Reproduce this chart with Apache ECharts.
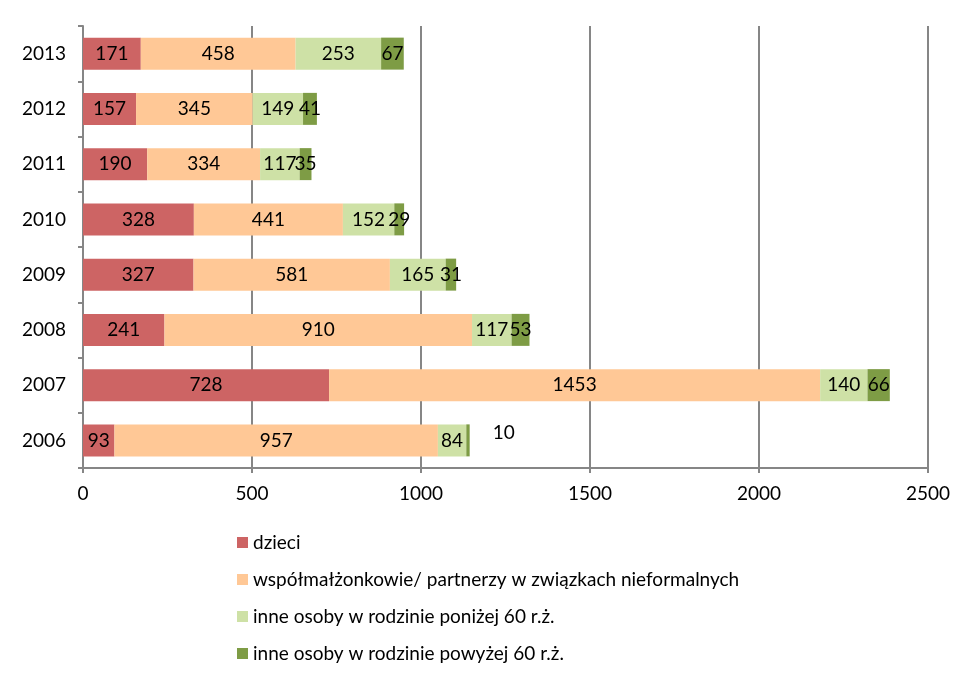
<!DOCTYPE html>
<html><head><meta charset="utf-8">
<script src="https://cdn.jsdelivr.net/npm/echarts@6/dist/echarts.min.js"></script>
<style>html,body{margin:0;padding:0;background:#fff}#c{width:980px;height:683px}</style>
</head><body><div id="c"></div>
<script>
const years = ['2006','2007','2008','2009','2010','2011','2012','2013'];
const dzieci = [93,728,241,327,328,190,157,171];
const partnerzy = [957,1453,910,581,441,334,345,458];
const ponizej60 = [84,140,117,165,152,117,149,253];
const powyzej60 = [10,66,53,31,29,35,41,67];
const seriesNames = ['dzieci','współmałżonkowie/ partnerzy w związkach nieformalnych','inne osoby w rodzinie poniżej 60 r.ż.','inne osoby w rodzinie powyżej 60 r.ż.'];
const colors = ['#CD6464','#FFC896','#CEE1A6','#7E9C45'];
const FONT = 'Lato, "Open Sans", sans-serif';
const FS = 19;

const chart = echarts.init(document.getElementById('c'));
const lbl = {show:true, position:'inside', color:'#000', fontSize:FS, fontFamily:FONT};
function mk(i, data){
  return {name:seriesNames[i], type:'bar', stack:'t', barWidth:32, data:data,
    itemStyle:{color:colors[i]}, label:lbl, emphasis:{disabled:true}};
}
const lastData = powyzej60.map((v,i)=> i===0 ? {value:v, label:{position:'right', offset:[18,-8]}} : v);
chart.setOption({
  animation:false,
  textStyle:{fontFamily:FONT},
  color:colors,
  grid:{left:83, right:52, top:26, bottom:215},
  xAxis:{type:'value', min:0, max:2500, interval:500,
    axisLine:{show:true, lineStyle:{color:'#868686', width:2}},
    axisTick:{show:true, length:5, lineStyle:{color:'#868686', width:2}},
    axisLabel:{color:'#000', fontSize:FS, margin:16, fontFamily:FONT, formatter:v=>String(v)},
    splitLine:{show:true, lineStyle:{color:'#868686', width:2}}},
  yAxis:{type:'category', data:years,
    axisLine:{show:true, lineStyle:{color:'#868686', width:2}},
    axisTick:{show:true, length:5, lineStyle:{color:'#868686', width:2}},
    axisLabel:{color:'#000', fontSize:FS, margin:17, fontFamily:FONT}},
  legend:{orient:'vertical', left:232, top:528, itemWidth:11, itemHeight:11, itemGap:18,
    icon:'rect', textStyle:{color:'#000', fontSize:FS, fontFamily:FONT},
    data:seriesNames},
  series:[mk(0,dzieci), mk(1,partnerzy), mk(2,ponizej60), mk(3,lastData)]
});
</script></body></html>
